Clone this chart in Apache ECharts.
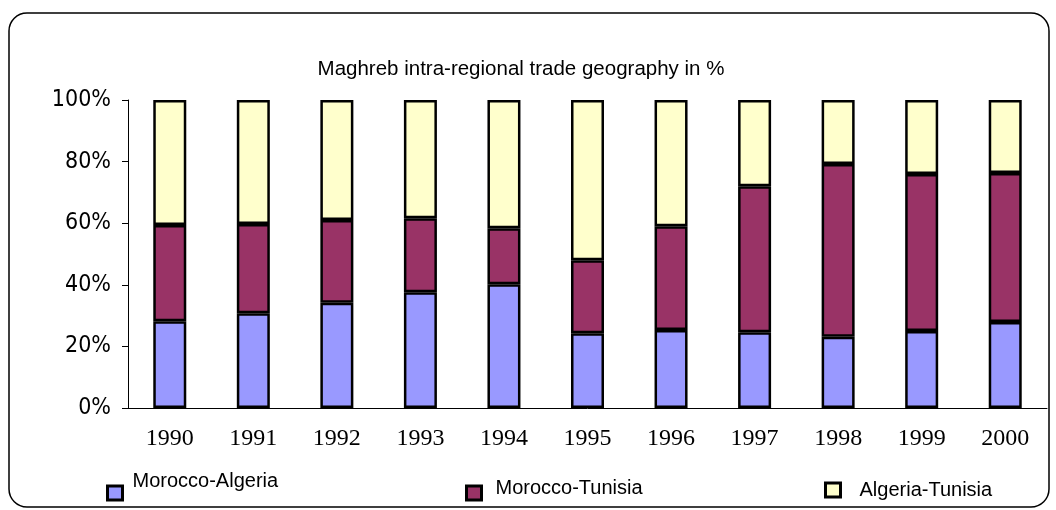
<!DOCTYPE html>
<html><head><meta charset="utf-8">
<script src="https://cdn.jsdelivr.net/npm/echarts@6/dist/echarts.min.js"></script>
<style>html,body{margin:0;padding:0;background:#fff}#c{width:1056px;height:510px}</style>
</head><body><div id="c"></div>
<script>
const years = ['1990','1991','1992','1993','1994','1995','1996','1997','1998','1999','2000'];
const moroccoAlgeria = [28.2, 30.8, 34.2, 37.6, 40.2, 24.3, 25.3, 24.6, 23.1, 25.0, 27.9];
const moroccoTunisia = [31.2, 28.9, 26.8, 24.0, 18.2, 23.7, 33.7, 47.4, 56.1, 51.0, 48.4];
const algeriaTunisia = [40.6, 40.3, 39.0, 38.4, 41.6, 52.0, 41.0, 28.0, 20.8, 24.0, 23.7];
const yTicks = ['0%','20%','40%','60%','80%','100%'];
const names = ['Morocco-Algeria','Morocco-Tunisia','Algeria-Tunisia'];
const colors = ['#9999FF','#993366','#FFFFCC'];

const chart = echarts.init(document.getElementById('c'), null, {renderer:'canvas'});
const font = 'Liberation Sans, Arial, sans-serif';
function legend(i, left, top, padLeft, lh){
  return {data:[names[i]], left:left, top:top, padding:0, itemWidth:15, itemHeight:14, orient:'horizontal',
    formatter: lh ? '{name}\n ' : '{name}',
    textStyle:{fontFamily:font, fontSize:20, color:'#000', padding:[0,0,0,padLeft], lineHeight: lh || 20},
    selectedMode:false,
    itemStyle:{borderColor:'#000', borderWidth:3}, icon:'rect'};
}
chart.setOption({
  animation:false,
  backgroundColor:'#fff',
  title:{text:'Maghreb intra-regional trade geography in %', left:516, textAlign:'center', top:54,
    textStyle:{fontFamily:font, fontSize:20.5, fontWeight:'normal', color:'#000'}},
  legend:[legend(0,106,469,5,24), legend(1,465,478,9,10), legend(2,824,480,14,0)],
  graphic:[{type:'rect', shape:{x:9, y:13, width:1040, height:494, r:18}, style:{fill:'none', stroke:'#000', lineWidth:1.5}, silent:true}],
  grid:{left:128, right:9, top:100, bottom:102},
  xAxis:{type:'category', data:years, boundaryGap:true,
    axisLine:{lineStyle:{color:'#000', width:1}},
    axisTick:{length:6, lineStyle:{color:'#000'}},
    axisLabel:{fontFamily:'Liberation Serif, Times New Roman, serif', fontSize:24, color:'#000', margin:19}},
  yAxis:{type:'value', min:0, max:100, interval:20,
    axisLine:{show:true, lineStyle:{color:'#000', width:1}},
    axisTick:{show:true, length:6, lineStyle:{color:'#000'}},
    splitLine:{show:false},
    axisLabel:{fontFamily:'Liberation Sans Narrow, DejaVu Sans Condensed, Liberation Sans, sans-serif', fontSize:23, color:'#000', margin:17,
      formatter:function(v){return yTicks[Math.round(v/20)];}}},
  series:[moroccoAlgeria, moroccoTunisia, algeriaTunisia].map(function(d,i){
    return {name:names[i], type:'bar', stack:'s', data:d, barWidth:33,
      itemStyle:{color:colors[i], borderColor:'#000', borderWidth:2.5}};
  })
});
</script></body></html>
